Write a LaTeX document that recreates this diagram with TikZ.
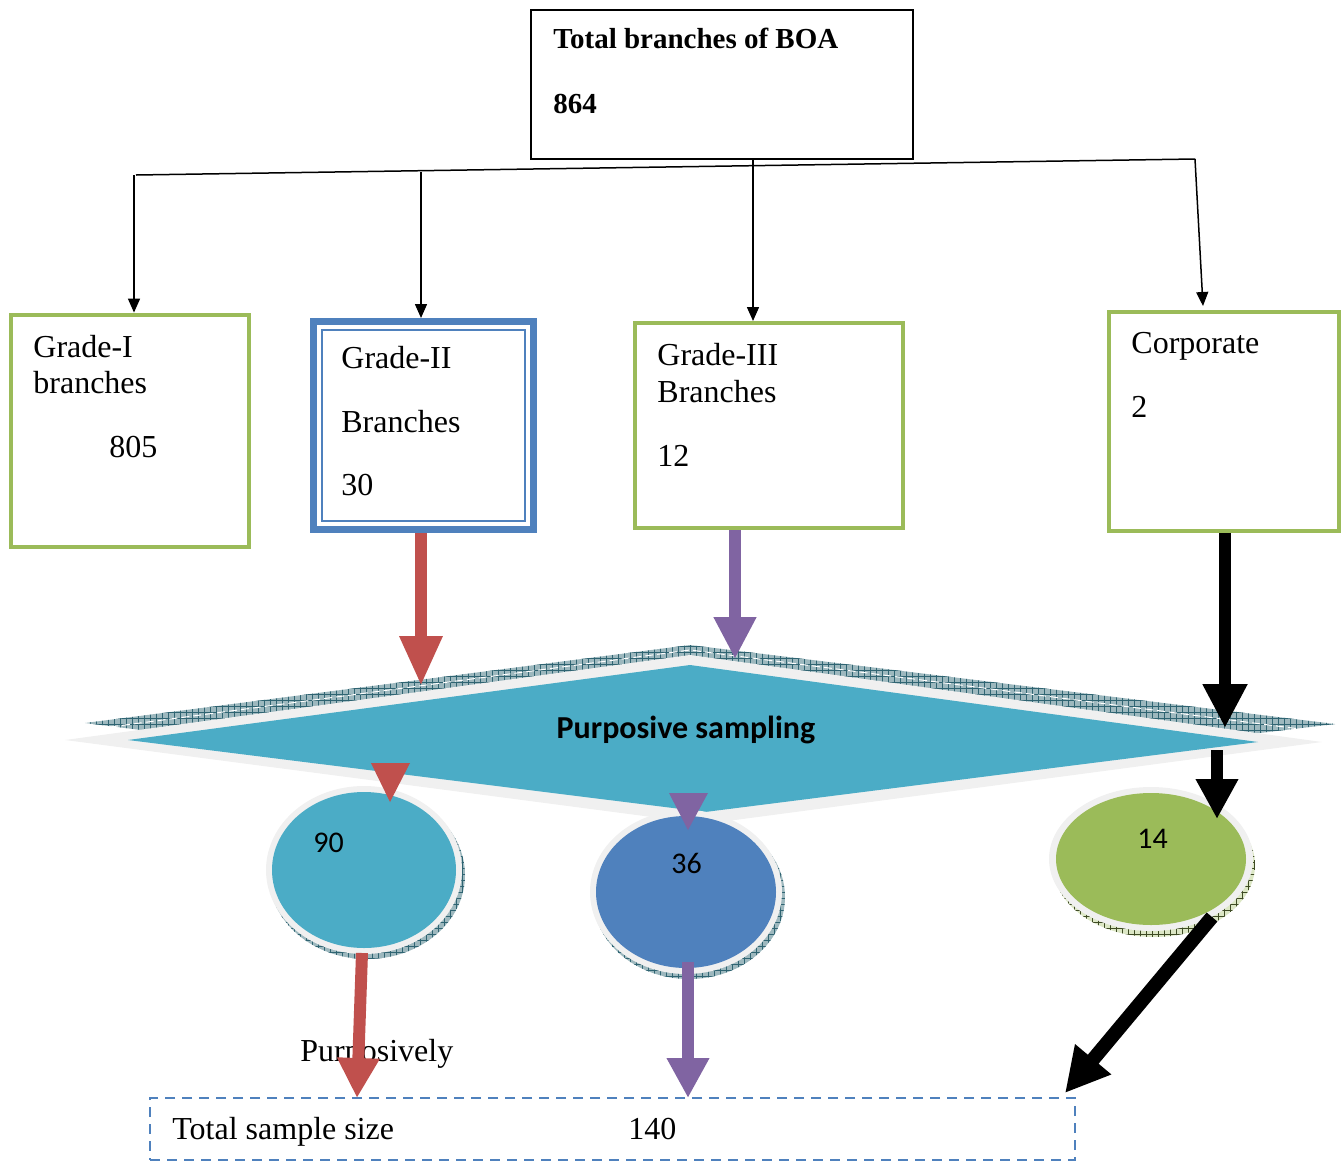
\documentclass[tikz,border=0pt]{standalone}
\usepackage{fontspec}
\setmainfont{Liberation Serif}
\newfontfamily\calib{Carlito}
\usetikzlibrary{arrows.meta,patterns,calc,shapes.geometric}
\definecolor{ggreen}{HTML}{9BBB59}
\definecolor{gblue}{HTML}{4F81BD}
\definecolor{gred}{HTML}{C0504D}
\definecolor{gpurple}{HTML}{8064A2}
\definecolor{gteal}{HTML}{4BACC6}
\definecolor{glight}{HTML}{F0F0F0}
\definecolor{hatchbg}{HTML}{9DB8BE}
\definecolor{hatchln}{HTML}{2F6472}
\begin{document}
\begin{tikzpicture}[x=0.5pt,y=-0.5pt,
  gbox/.style={draw=ggreen, rectangle, inner sep=0pt, line width=2.4pt},
  lbl/.style={anchor=base west, inner sep=0pt, font=\fontsize{16}{19}\selectfont},
  numlbl/.style={anchor=base west, inner sep=0pt, font=\calib\fontsize{15}{18}\selectfont},
  thinarr/.style={line width=0.75pt, -{Triangle[width=6pt,length=7pt]}},
  fat/.style={line width=6pt, -{Triangle[width=20pt,length=25pt]}},
  hatched/.style={fill=hatchbg, postaction={pattern=grid, pattern color=hatchln}},
  blob/.style={ellipse, inner sep=0pt}
]
\useasboundingbox (0,0) rectangle (1344,1162);

% ---- top box
\node[draw, rectangle, inner sep=0pt, line width=0.75pt, minimum width=191pt, minimum height=74.5pt] (top) at (722,84.5) {};
\node[anchor=base west, inner sep=0pt, font=\bfseries\fontsize{14.5}{17}\selectfont] (toptxt) at (553,48) {Total branches of BOA};
\node[anchor=base west, inner sep=0pt, font=\bfseries\fontsize{14.5}{17}\selectfont] (topnum) at (553,113) {864};

% ---- category boxes
\node[gbox, minimum width=119pt, minimum height=116pt] (g1) at (130,431) {};
\node[draw=gblue, rectangle, inner sep=0pt, line width=3.5pt, minimum width=110pt, minimum height=104pt] (g2) at (423.5,425.5) {};
\node[draw=gblue, rectangle, inner sep=0pt, line width=1.2pt, minimum width=101.5pt, minimum height=95.5pt] (g2in) at (423.5,425.5) {};
\node[gbox, minimum width=134pt, minimum height=102.5pt] (g3) at (769,425.5) {};
\node[gbox, minimum width=115pt, minimum height=109.5pt] (g4) at (1224,421.5) {};

\node[lbl] (g1a) at (33,357) {Grade-I};
\node[lbl] (g1b) at (33,393) {branches};
\node[lbl] (g1c) at (109,457) {805};
\node[lbl] (g2a) at (341,368) {Grade-II};
\node[lbl] (g2b) at (341,432) {Branches};
\node[lbl] (g2c) at (341,495) {30};
\node[lbl] (g3a) at (657,365) {Grade-III};
\node[lbl] (g3b) at (657,402) {Branches};
\node[lbl] (g3c) at (657,466) {12};
\node[lbl] (g4a) at (1131,353) {Corporate};
\node[lbl] (g4b) at (1131,417) {2};

% ---- thin connectors
\coordinate (hL) at (136,175);
\coordinate (hR) at (1195,159);
\coordinate (b1) at (134,175);
\coordinate (b2) at (421,172);
\coordinate (t4) at (1203,306);
\draw[line width=0.75pt] (hL) -- (hR);
\draw[thinarr] (b1) -- (b1 |- g1.north);
\draw[thinarr] (b2) -- (b2 |- g2.north);
\draw[thinarr] (top.south -| 753,0) -- (753,321);
\draw[thinarr] (hR) -- (t4);

% ---- diamond (purposive sampling)
\path[hatched] (85,723) -- (690,645) -- (1335,724) -- (700,800) -- cycle;
\draw[white, dashed, line width=0.5pt, dash pattern=on 4pt off 2pt] (110,727) -- (690,650) -- (1300,729);
\fill[glight] (65,740) -- (690,655) -- (1322,742) -- (705,824) -- cycle;
\fill[gteal] (128,740) -- (690,665) -- (1258,742) -- (705,812) -- cycle;
\node[anchor=base, inner sep=0pt, font=\calib\bfseries\fontsize{16}{19}\selectfont] (ps) at (686,738) {Purposive sampling};

% ---- thick arrows from boxes to diamond
\coordinate (rt) at (421,686);
\coordinate (pt) at (735,659);
\coordinate (kt) at (1225,728);
\draw[fat, gred] (g2.south -| rt) -- (rt);
\draw[fat, gpurple, -{Triangle[width=20pt,length=21pt]}] (g3.south -| pt) -- (pt);
\draw[fat, black, -{Triangle[width=21pt,length=22pt]}] (g4.south -| kt) -- (kt);

% ---- circles
\fill[hatched] (367,875) ellipse [x radius=98, y radius=84];
\node[blob, fill=glight, minimum width=98pt, minimum height=84pt] (r90) at (364,870) {};
\node[blob, fill=gteal, minimum width=92pt, minimum height=78pt] (c90) at (364,870) {};

\fill[hatched] (689,897) ellipse [x radius=96, y radius=82];
\node[blob, fill=glight, minimum width=96pt, minimum height=82pt] (r36) at (686,892) {};
\node[blob, fill=gblue, minimum width=90pt, minimum height=76pt] (c36) at (686,892) {};

\fill[ggreen!35!white, postaction={pattern=grid, pattern color=ggreen!40!black}] (1154,865) ellipse [x radius=101, y radius=72];
\node[blob, fill=glight, minimum width=102pt, minimum height=72pt] (r14) at (1151,859) {};
\node[blob, fill=ggreen, minimum width=95pt, minimum height=66pt] (c14) at (1151,859) {};

\node[numlbl] (n90) at (313,852) {90};
\node[numlbl] (n36) at (671,873) {36};
\node[numlbl] (n14) at (1137,848) {14};

% ---- arrowheads from diamond into circles
\fill[gred] (371,763) -- (410,763) -- (390,802) -- cycle;
\fill[gpurple] (669,793) -- (708,793) -- (688,830) -- cycle;
\coordinate (ks) at (1217,750);
\coordinate (ke) at (1217,819);
\draw[line width=6pt, -{Triangle[width=20pt,length=20pt]}] (ks) -- (ke);

% ---- bottom
\node[draw=gblue, rectangle, inner sep=0pt, line width=0.9pt, dash pattern=on 5pt off 3.5pt, minimum width=462.5pt, minimum height=31pt] (tot) at (612.5,1129) {};
\node[lbl] (totlbl) at (172,1139) {Total sample size};
\node[lbl] (totnum) at (628,1139) {140};
\node[lbl] (purp) at (300,1061) {Purposively};

\coordinate (rs) at (362,953);
\coordinate (re) at (357,1098);
\coordinate (ps2) at (688,962);
\coordinate (pe) at (688,1098);
\coordinate (ks2) at (1212,917);
\coordinate (ke2) at (1065,1093);
\draw[fat, gred, -{Triangle[width=20pt,length=20pt]}] (rs) -- (re);
\draw[fat, gpurple, -{Triangle[width=20pt,length=20pt]}] (ps2) -- (pe);
\draw[line width=7pt, -{Triangle[width=22pt,length=22pt]}] (ks2) -- (ke2);
\end{tikzpicture}
\end{document}
